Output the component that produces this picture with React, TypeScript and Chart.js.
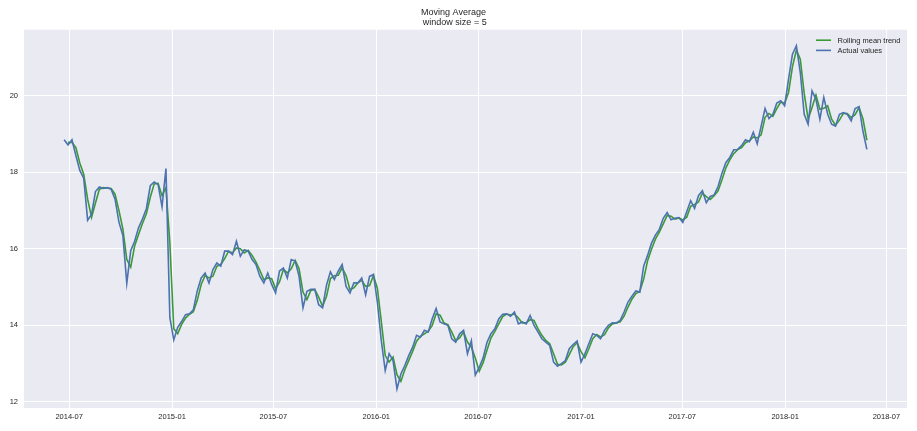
import React, { useEffect, useRef } from "react";
import { Chart, registerables } from "chart.js";

Chart.register(...registerables);

// ---- data (weekly readings of the plotted series) ----
const START_DATE = "2014-06-22";
const SAMPLE_STEP_DAYS = 7;
const ROLLING_WINDOW_SAMPLES = 2; // ~5 trading days at weekly sampling

const actualValues = [
  18.85, 18.72, 18.85, 18.44, 18.05, 17.85, 16.75, 16.9, 17.5, 17.62,
  17.58, 17.6, 17.56, 17.3, 16.7, 16.35, 15.1, 15.95, 16.2, 16.55,
  16.78, 17.05, 17.65, 17.75, 17.68, 17.1, 18.1, 14.2, 13.62, 13.95,
  14.1, 14.28, 14.3, 14.41, 14.9, 15.24, 15.37, 15.11, 15.46, 15.63,
  15.55, 15.94, 15.94, 15.85, 16.2, 15.81, 15.98, 15.94, 15.72, 15.59,
  15.28, 15.11, 15.37, 15.07, 14.85, 15.42, 15.5, 15.24, 15.72, 15.68,
  15.28, 14.46, 14.89, 14.94, 14.94, 14.54, 14.46, 15.05, 15.4, 15.2,
  15.42, 15.59, 15.02, 14.85, 15.11, 15.11, 15.24, 14.8, 15.28, 15.33,
  14.6, 13.6, 12.82, 13.26, 13.08, 12.34, 12.73, 12.95, 13.21, 13.43,
  13.74, 13.69, 13.87, 13.83, 14.17, 14.44, 14.09, 14.04, 14.0, 13.65,
  13.56, 13.78, 13.87, 13.26, 13.6, 12.7, 12.9, 13.15, 13.56, 13.78,
  13.91, 14.17, 14.29, 14.3, 14.24, 14.35, 14.04, 14.09, 14.04, 14.26,
  14.0, 13.83, 13.65, 13.56, 13.48, 13.04, 12.93, 13.0, 13.08, 13.39,
  13.5, 13.59, 13.04, 13.26, 13.52, 13.78, 13.74, 13.65, 13.87, 14.0,
  14.07, 14.06, 14.13, 14.35, 14.61, 14.76, 14.9, 14.87, 15.55, 15.83,
  16.15, 16.36, 16.51, 16.8, 16.95, 16.76, 16.8, 16.82, 16.69, 16.97,
  17.26, 17.06, 17.39, 17.52, 17.21, 17.37, 17.41, 17.63, 17.98, 18.26,
  18.39, 18.59, 18.6, 18.7, 18.85, 18.8, 19.05, 18.75, 19.21, 19.67,
  19.41, 19.52, 19.81, 19.87, 19.74, 20.44, 21.09, 21.31, 20.61, 19.52,
  19.26, 20.13, 19.91, 19.39, 19.96, 19.52, 19.26, 19.21, 19.52, 19.56,
  19.52, 19.35, 19.67, 19.72, 19.08, 18.6,
];

const xTickLabels = [
  "2014-07", "2015-01", "2015-07", "2016-01", "2016-07",
  "2017-01", "2017-07", "2018-01", "2018-07",
];
const yTickValues = [12, 14, 16, 18, 20];
const Y_MIN = 11.84;
const Y_MAX = 21.73;

const seriesLabels = ["Rolling mean trend", "Actual values"];
const TITLE_LINES = ["Moving Average", " window size = 5"];

// ---- styles ----
const FONT = "'Liberation Sans', Arial, sans-serif";
const GREEN = "#3a9a35";
const BLUE = "#4C72B0";
const BG = "#EAEAF2";
const TEXT = "#262626";

const DAY_MS = 86400000;
function toDay(s: string): number {
  const [y, m, d] = s.split("-").map(Number);
  return Date.UTC(y, m - 1, d || 1) / DAY_MS;
}

const startDay = toDay(START_DATE);
const actualPoints = actualValues.map((v, i) => ({ x: startDay + i * SAMPLE_STEP_DAYS, y: v }));
const rollingPoints = actualValues
  .map((_, i) => {
    if (i < ROLLING_WINDOW_SAMPLES - 1) return null;
    let s = 0;
    for (let k = 0; k < ROLLING_WINDOW_SAMPLES; k++) s += actualValues[i - k];
    return { x: startDay + i * SAMPLE_STEP_DAYS, y: s / ROLLING_WINDOW_SAMPLES };
  })
  .filter(Boolean) as { x: number; y: number }[];

const firstDay = actualPoints[0].x;
const lastDay = actualPoints[actualPoints.length - 1].x;
const span = lastDay - firstDay;
const X_MIN = firstDay - span * 0.05;
const X_MAX = lastDay + span * 0.05;
const xTickValues = xTickLabels.map(toDay);

const bgPlugin = {
  id: "bgPlugin",
  beforeDraw(chart: any) {
    const { ctx, chartArea } = chart;
    ctx.save();
    ctx.fillStyle = BG;
    ctx.fillRect(chartArea.left, chartArea.top, chartArea.right - chartArea.left, chartArea.bottom - chartArea.top);
    ctx.restore();
  },
};

const legendPlugin = {
  id: "innerLegend",
  afterDraw(chart: any) {
    const { ctx, chartArea } = chart;
    const x0 = chartArea.right - 91;
    const y0 = chartArea.top + 10.5;
    ctx.save();
    ctx.font = `7.5px ${FONT}`;
    ctx.textBaseline = "middle";
    ctx.textAlign = "left";
    chart.data.datasets.forEach((ds: any, k: number) => {
      const y = y0 + k * 10.2;
      ctx.strokeStyle = ds.borderColor;
      ctx.lineWidth = 1.6;
      ctx.beginPath();
      ctx.moveTo(x0, y);
      ctx.lineTo(x0 + 15, y);
      ctx.stroke();
      ctx.fillStyle = TEXT;
      ctx.fillText(ds.label, x0 + 21.5, y + 0.5);
    });
    ctx.restore();
  },
};

export default function App() {
  const ref = useRef<HTMLCanvasElement | null>(null);
  useEffect(() => {
    document.body.style.margin = "0";
    const canvas = ref.current;
    if (!canvas) return;
    const chart = new Chart(canvas, {
      type: "line",
      data: {
        datasets: [
          {
            label: seriesLabels[0],
            data: rollingPoints,
            borderColor: GREEN,
            backgroundColor: GREEN,
            borderWidth: 1.6,
            pointRadius: 0,
            tension: 0,
            order: 2,
          },
          {
            label: seriesLabels[1],
            data: actualPoints,
            borderColor: BLUE,
            backgroundColor: BLUE,
            borderWidth: 1.6,
            pointRadius: 0,
            tension: 0,
            order: 1,
          },
        ],
      },
      options: {
        responsive: false,
        animation: false,
        devicePixelRatio: 1,
        layout: { padding: { left: 0, right: 10, top: 0, bottom: 0 } },
        plugins: {
          legend: { display: false },
          tooltip: { enabled: false },
          title: {
            display: true,
            text: TITLE_LINES,
            color: TEXT,
            font: { family: FONT, size: 9, weight: "normal", lineHeight: 1.15 },
            padding: { top: 7, bottom: 2 },
          },
        },
        scales: {
          x: {
            type: "linear",
            min: X_MIN,
            max: X_MAX,
            afterBuildTicks: (s: any) => {
              s.ticks = xTickValues.map((v) => ({ value: v }));
            },
            afterFit: (s: any) => {
              s.height = 23;
            },
            ticks: {
              autoSkip: false,
              maxRotation: 0,
              padding: 4,
              color: TEXT,
              font: { family: FONT, size: 7.5 },
              callback: (_v: any, i: number) => xTickLabels[i],
            },
            grid: { color: "#ffffff", lineWidth: 1, drawTicks: false },
            border: { display: false },
          },
          y: {
            type: "linear",
            min: Y_MIN,
            max: Y_MAX,
            afterBuildTicks: (s: any) => {
              s.ticks = yTickValues.map((v) => ({ value: v }));
            },
            afterFit: (s: any) => {
              s.width = 24;
            },
            ticks: {
              padding: 6,
              color: TEXT,
              font: { family: FONT, size: 7.5 },
              callback: (v: any) => String(v),
            },
            grid: { color: "#ffffff", lineWidth: 1, drawTicks: false },
            border: { display: false },
          },
        },
      },
      plugins: [bgPlugin, legendPlugin],
    } as any);
    return () => chart.destroy();
  }, []);
  return (
    <div style={{ width: 917, height: 431 }}>
      <canvas ref={ref} width={917} height={431} style={{ display: "block" }} />
    </div>
  );
}
